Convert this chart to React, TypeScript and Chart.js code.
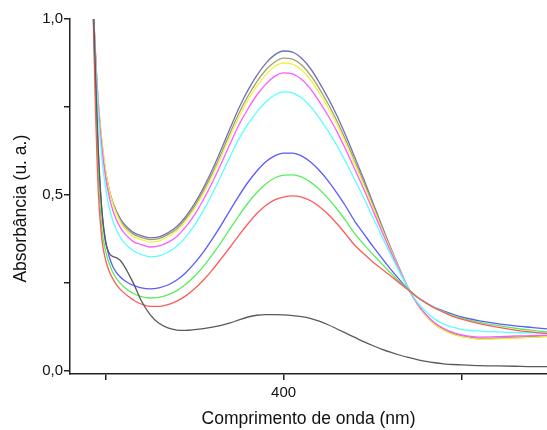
import React, { useEffect, useRef } from "react";
import { Chart, registerables } from "chart.js";

Chart.register(...registerables);

// Wavelength grid (nm)
const WAVELENGTHS = [293, 294, 295, 296, 298, 300, 302, 304, 306, 308, 310, 313, 316, 320, 325, 330, 335, 340, 345, 350, 355, 360, 365, 370, 375, 380, 385, 390, 395, 400, 405, 410, 415, 420, 425, 430, 435, 440, 445, 450, 455, 460, 465, 470, 475, 480, 485, 490, 495, 500, 510, 520, 530, 540, 548];

// Absorbance series (u. a.)
const SERIES_BLACK = [1.05, 0.9, 0.75, 0.62, 0.45, 0.365, 0.335, 0.325, 0.322, 0.315, 0.302, 0.275, 0.245, 0.2, 0.16, 0.135, 0.122, 0.116, 0.115, 0.117, 0.12, 0.124, 0.129, 0.136, 0.145, 0.153, 0.158, 0.16, 0.16, 0.159, 0.157, 0.154, 0.149, 0.141, 0.131, 0.119, 0.107, 0.095, 0.083, 0.072, 0.062, 0.053, 0.045, 0.038, 0.032, 0.027, 0.023, 0.02, 0.018, 0.017, 0.015, 0.014, 0.013, 0.012, 0.012];
const SERIES_RED = [1.02, 0.8, 0.63, 0.5, 0.37, 0.315, 0.283, 0.262, 0.246, 0.233, 0.223, 0.211, 0.2, 0.19, 0.183, 0.183, 0.188, 0.198, 0.213, 0.233, 0.258, 0.287, 0.319, 0.352, 0.386, 0.418, 0.447, 0.47, 0.486, 0.494, 0.497, 0.494, 0.484, 0.467, 0.445, 0.418, 0.388, 0.357, 0.333, 0.31, 0.29, 0.27, 0.25, 0.23, 0.21, 0.193, 0.178, 0.166, 0.155, 0.147, 0.134, 0.124, 0.116, 0.11, 0.106];
const SERIES_GREEN = [1.03, 0.85, 0.68, 0.55, 0.4, 0.34, 0.305, 0.28, 0.263, 0.25, 0.24, 0.228, 0.219, 0.211, 0.207, 0.209, 0.216, 0.228, 0.246, 0.269, 0.297, 0.33, 0.366, 0.404, 0.442, 0.477, 0.507, 0.531, 0.548, 0.556, 0.557, 0.551, 0.537, 0.516, 0.49, 0.46, 0.426, 0.39, 0.36, 0.332, 0.305, 0.279, 0.254, 0.231, 0.21, 0.193, 0.179, 0.168, 0.158, 0.15, 0.138, 0.129, 0.121, 0.115, 0.111];
const SERIES_BLUE = [1.03, 0.87, 0.72, 0.6, 0.45, 0.37, 0.325, 0.297, 0.28, 0.268, 0.259, 0.249, 0.242, 0.236, 0.233, 0.236, 0.244, 0.258, 0.279, 0.306, 0.338, 0.375, 0.415, 0.457, 0.498, 0.536, 0.568, 0.594, 0.611, 0.619, 0.619, 0.611, 0.594, 0.57, 0.54, 0.505, 0.467, 0.425, 0.39, 0.355, 0.322, 0.29, 0.26, 0.232, 0.21, 0.193, 0.18, 0.17, 0.161, 0.153, 0.142, 0.134, 0.128, 0.123, 0.119];
const SERIES_CYAN = [1.03, 0.92, 0.81, 0.72, 0.6, 0.52, 0.465, 0.428, 0.402, 0.382, 0.367, 0.351, 0.34, 0.331, 0.324, 0.327, 0.337, 0.354, 0.38, 0.414, 0.456, 0.504, 0.556, 0.61, 0.66, 0.701, 0.736, 0.764, 0.784, 0.793, 0.79, 0.776, 0.752, 0.719, 0.682, 0.64, 0.593, 0.543, 0.492, 0.438, 0.384, 0.332, 0.282, 0.235, 0.196, 0.168, 0.147, 0.133, 0.124, 0.118, 0.113, 0.111, 0.109, 0.108, 0.108];
const SERIES_MAGENTA = [1.04, 0.935, 0.83, 0.745, 0.63, 0.55, 0.495, 0.457, 0.43, 0.41, 0.395, 0.378, 0.366, 0.359, 0.352, 0.355, 0.365, 0.382, 0.409, 0.444, 0.487, 0.536, 0.59, 0.646, 0.7, 0.745, 0.784, 0.815, 0.837, 0.847, 0.844, 0.829, 0.802, 0.766, 0.725, 0.68, 0.628, 0.573, 0.517, 0.458, 0.399, 0.341, 0.287, 0.234, 0.192, 0.16, 0.136, 0.12, 0.109, 0.102, 0.096, 0.097, 0.099, 0.1, 0.101];
const SERIES_YELLOW = [1.04, 0.94, 0.84, 0.76, 0.65, 0.57, 0.515, 0.476, 0.448, 0.426, 0.409, 0.392, 0.38, 0.373, 0.366, 0.369, 0.381, 0.398, 0.425, 0.461, 0.504, 0.554, 0.609, 0.667, 0.722, 0.77, 0.809, 0.842, 0.865, 0.875, 0.872, 0.856, 0.828, 0.79, 0.748, 0.7, 0.646, 0.588, 0.529, 0.468, 0.406, 0.346, 0.289, 0.235, 0.19, 0.156, 0.131, 0.115, 0.104, 0.097, 0.09, 0.091, 0.093, 0.095, 0.097];
const SERIES_OLIVE = [1.04, 0.935, 0.835, 0.755, 0.645, 0.568, 0.515, 0.478, 0.452, 0.431, 0.415, 0.399, 0.387, 0.379, 0.373, 0.376, 0.387, 0.404, 0.432, 0.468, 0.512, 0.562, 0.618, 0.677, 0.733, 0.781, 0.822, 0.855, 0.878, 0.889, 0.886, 0.87, 0.841, 0.803, 0.759, 0.71, 0.655, 0.596, 0.536, 0.473, 0.41, 0.349, 0.29, 0.235, 0.191, 0.157, 0.132, 0.116, 0.105, 0.098, 0.091, 0.092, 0.094, 0.096, 0.098];
const SERIES_NAVY = [1.04, 0.93, 0.83, 0.75, 0.64, 0.565, 0.515, 0.48, 0.455, 0.435, 0.42, 0.404, 0.392, 0.384, 0.378, 0.381, 0.392, 0.41, 0.438, 0.475, 0.52, 0.572, 0.63, 0.69, 0.748, 0.798, 0.84, 0.874, 0.898, 0.909, 0.906, 0.889, 0.86, 0.82, 0.775, 0.725, 0.668, 0.607, 0.545, 0.48, 0.415, 0.352, 0.292, 0.236, 0.192, 0.158, 0.133, 0.117, 0.106, 0.099, 0.092, 0.093, 0.095, 0.097, 0.099];

const SERIES = [SERIES_BLACK, SERIES_RED, SERIES_GREEN, SERIES_BLUE, SERIES_CYAN, SERIES_MAGENTA, SERIES_YELLOW, SERIES_OLIVE, SERIES_NAVY];
const SERIES_COLORS = ["#5a5a5a", "#ff5a5a", "#5aee5a", "#5a5aff", "#5affff", "#ff5aff", "#f2f240", "#a0a070", "#7070b4"];

// Axis ticks
const X_TICKS = [300, 400, 500];
const X_TICK_LABELS = ["", "400", ""];
const Y_TICKS = [0, 0.25, 0.5, 0.75, 1.0];
const Y_TICK_LABELS = ["0,0", "", "0,5", "", "1,0"];

const X_TITLE = "Comprimento de onda (nm)";
const Y_TITLE = "Absorbância (u. a.)";

const FONT = "'Liberation Sans', Arial, sans-serif";

export default function App() {
  const canvasRef = useRef<HTMLCanvasElement | null>(null);

  useEffect(() => {
    const canvas = canvasRef.current;
    if (!canvas) return;
    const datasets = SERIES.map((values, i) => ({
      label: "s" + i,
      data: WAVELENGTHS.map((w, j) => ({ x: w, y: values[j] })),
      borderColor: SERIES_COLORS[i],
      backgroundColor: SERIES_COLORS[i],
      borderWidth: 1.3,
      pointRadius: 0,
      fill: false,
      cubicInterpolationMode: "monotone" as const,
    }));

    const chart = new Chart(canvas, {
      type: "line",
      data: { datasets },
      options: {
        animation: false,
        responsive: false,
        devicePixelRatio: 1,
        layout: { padding: { top: 19, right: 0, left: 0, bottom: 0 } },
        plugins: {
          legend: { display: false },
          tooltip: { enabled: false },
        },
        scales: {
          x: {
            type: "linear",
            min: 280,
            max: 548,
            afterBuildTicks: (scale: any) => {
              scale.ticks = X_TICKS.map((v) => ({ value: v }));
            },
            afterFit: (scale: any) => {
              scale.height = 56;
            },
            ticks: {
              autoSkip: false,
              maxRotation: 0,
              padding: 4,
              color: "#111",
              font: { family: FONT, size: 15 },
              callback: (value: any) => {
                const idx = X_TICKS.indexOf(Number(value));
                return idx >= 0 ? X_TICK_LABELS[idx] : "";
              },
            },
            grid: {
              display: true,
              drawOnChartArea: false,
              drawTicks: true,
              tickLength: 6,
              color: "#222",
              lineWidth: 1.5,
            },
            border: { display: true, color: "#222", width: 1.5 },
            title: {
              display: true,
              text: X_TITLE,
              color: "#111",
              font: { family: FONT, size: 17.5 },
              padding: { top: 7, bottom: 0 },
            },
          },
          y: {
            type: "linear",
            min: -0.009,
            max: 1.0,
            afterBuildTicks: (scale: any) => {
              scale.ticks = Y_TICKS.map((v) => ({ value: v }));
            },
            afterFit: (scale: any) => {
              scale.width = 70;
            },
            ticks: {
              autoSkip: false,
              padding: 1,
              color: "#111",
              font: { family: FONT, size: 15 },
              callback: (value: any) => {
                const idx = Y_TICKS.indexOf(Number(value));
                return idx >= 0 ? Y_TICK_LABELS[idx] : "";
              },
            },
            grid: {
              display: true,
              drawOnChartArea: false,
              drawTicks: true,
              tickLength: 6,
              color: "#222",
              lineWidth: 1.5,
            },
            border: { display: true, color: "#222", width: 1.5 },
            title: {
              display: true,
              text: Y_TITLE + "\u00A0\u00A0\u00A0\u00A0\u00A0",
              color: "#111",
              font: { family: FONT, size: 17.5 },
              padding: { top: 11, bottom: 0 },
            },
          },
        },
      },
    });
    return () => chart.destroy();
  }, []);

  return (
    <div style={{ position: "absolute", left: 0, top: 0, width: 547, height: 430, background: "#fff" }}>
      <canvas ref={canvasRef} width={547} height={430} style={{ width: 547, height: 430, display: "block" }} />
    </div>
  );
}
